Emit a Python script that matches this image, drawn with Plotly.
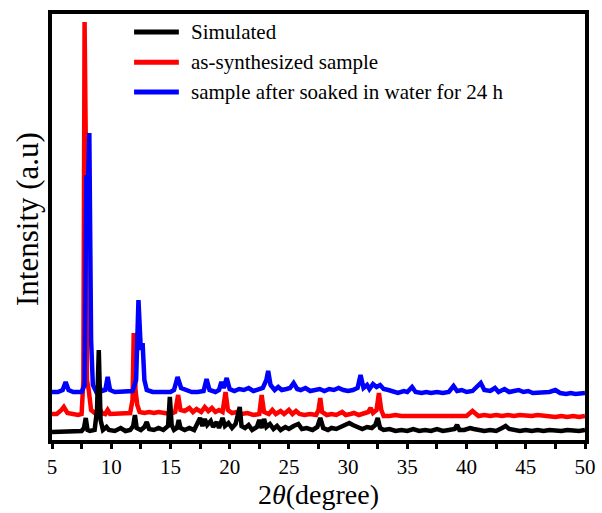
import plotly.graph_objects as go

# ---- data: (2theta, intensity) ----
sim_x = [5.0, 5.5, 6.0, 6.3, 7.0, 7.5, 7.7, 7.85, 8.0, 8.2, 8.6, 8.8, 8.95, 9.1, 9.3, 9.6, 9.8, 10.3, 10.8, 11.2,
         11.6, 11.85, 12.0, 12.15, 12.5, 12.8, 13.0, 13.2, 13.6, 14.0, 14.4, 14.8, 14.95, 15.1, 15.3, 15.55, 15.7,
         15.85, 16.2, 16.6, 17.0, 17.3, 17.5, 17.7, 17.9, 18.1, 18.4, 18.6, 18.9, 19.1, 19.4, 19.6, 19.9, 20.2,
         20.5, 20.85, 21.0, 21.3, 21.6, 21.9, 22.3, 22.5, 22.7, 22.9, 23.1, 23.4, 23.7, 24.0, 24.3, 24.7, 25.0,
         25.4, 25.8, 26.1, 26.5, 27.0, 27.4, 27.65, 27.9, 28.3, 28.6, 29.0, 29.4, 29.8, 30.1, 30.4, 30.8, 31.2,
         31.6, 32.0, 32.3, 32.5, 32.7, 33.0, 33.5, 34.0, 34.5, 35.0, 35.5, 36.0, 36.5, 37.0, 37.5, 38.0, 38.5,
         39.0, 39.2, 39.4, 39.8, 40.3, 40.6, 41.0, 41.5, 42.0, 42.5, 43.0, 43.3, 43.6, 44.0, 44.5, 45.0, 45.5,
         46.0, 46.5, 47.0, 47.5, 48.0, 48.5, 49.0, 49.5, 50.0]
sim_y = [8, 8, 9, 8, 8, 9, 12, 22, 10, 9, 10, 30, 90, 20, 10, 13, 10, 9, 12, 9,
         10, 14, 25, 12, 10, 13, 18, 11, 10, 12, 10, 14, 43, 15, 10, 12, 20,
         12, 10, 12, 10, 17, 22, 14, 21, 15, 19, 13, 18, 12, 22, 14, 17, 12,
         16, 33, 14, 12, 15, 10, 13, 20, 12, 21, 13, 16, 11, 14, 10, 13, 11,
         14, 16, 11, 12, 10, 13, 22, 12, 10, 12, 11, 13, 15, 17, 15, 13, 11,
         13, 12, 15, 22, 12, 10, 11, 9, 10, 9, 11, 9, 10, 9, 11, 9, 10,
         11, 15, 10, 10, 12, 11, 10, 9, 10, 9, 12, 14, 11, 10, 9, 10, 9,
         10, 9, 10, 9, 9, 10, 9, 9, 10]

syn_x = [5.0, 5.4, 5.8, 6.0, 6.3, 6.8, 7.2, 7.5, 7.65, 7.75, 7.85, 7.95, 8.1, 8.3, 8.6, 9.0, 9.2, 9.5, 9.7, 9.9,
         10.3, 10.8, 11.2, 11.6, 11.8, 11.9, 12.05, 12.2, 12.4, 12.8, 13.2, 13.6, 14.0, 14.5, 15.0, 15.4, 15.65,
         15.85, 16.2, 16.6, 16.9, 17.2, 17.6, 17.9, 18.2, 18.5, 18.8, 19.1, 19.4, 19.65, 19.85, 20.2, 20.6, 21.0,
         21.5, 22.0, 22.5, 22.7, 22.9, 23.3, 23.6, 23.9, 24.3, 24.6, 25.0, 25.3, 25.6, 25.9, 26.3, 26.8, 27.3,
         27.5, 27.65, 27.8, 28.2, 28.6, 29.0, 29.5, 29.8, 30.2, 30.5, 30.9, 31.3, 31.7, 31.9, 32.1, 32.4, 32.6,
         32.8, 33.0, 33.5, 34.0, 34.5, 35.0, 35.5, 36.0, 36.5, 37.0, 37.5, 38.0, 38.5, 39.0, 39.5, 40.0, 40.5,
         40.8, 41.0, 41.5, 42.0, 42.5, 43.0, 43.5, 44.0, 44.5, 45.0, 45.5, 46.0, 46.5, 47.0, 47.5, 48.0, 48.5,
         49.0, 49.5, 50.0]
syn_y = [26, 26, 30, 33, 27, 26, 25, 26, 60, 418, 300, 60, 50, 30, 27, 32, 27, 26, 30, 26,
         26, 27, 26, 27, 40, 107, 50, 35, 28, 27, 28, 27, 28, 27, 26, 28, 45,
         30, 29, 32, 28, 31, 28, 33, 29, 32, 28, 30, 28, 48, 30, 27, 28, 26,
         27, 25, 26, 45, 28, 26, 30, 26, 29, 26, 30, 26, 29, 26, 25, 26, 25,
         30, 42, 28, 25, 26, 25, 28, 25, 26, 27, 25, 26, 28, 32, 27, 30, 47,
         30, 24, 24, 25, 24, 24, 25, 24, 24, 25, 24, 24, 25, 24, 25, 24, 29,
         26, 24, 25, 24, 25, 24, 25, 24, 25, 24, 24, 25, 24, 24, 23, 24, 23,
         24, 23, 24]

soak_x = [5.0, 5.5, 5.9, 6.15, 6.4, 6.8, 7.2, 7.5, 7.75, 7.9, 8.0, 8.15, 8.3, 8.45, 8.7, 9.0, 9.2, 9.5, 9.7, 9.9,
          10.3, 10.8, 11.3, 11.8, 12.1, 12.3, 12.5, 12.65, 12.8, 13.0, 13.5, 14.0, 14.5, 15.0, 15.3, 15.6, 15.9,
          16.3, 16.8, 17.3, 17.8, 18.05, 18.3, 18.8, 19.1, 19.3, 19.5, 19.75, 20.0, 20.4, 20.8, 21.2, 21.6, 22.0,
          22.4, 22.8, 23.1, 23.25, 23.45, 23.8, 24.1, 24.4, 24.8, 25.1, 25.4, 25.7, 26.0, 26.4, 26.8, 27.2, 27.6,
          28.0, 28.4, 28.8, 29.2, 29.6, 30.0, 30.4, 30.8, 31.05, 31.3, 31.6, 31.8, 32.1, 32.4, 32.7, 33.0, 33.4,
          33.8, 34.2, 34.7, 35.0, 35.4, 35.7, 36.2, 36.6, 37.0, 37.5, 38.0, 38.5, 38.9, 39.2, 39.6, 40.0, 40.5,
          41.0, 41.2, 41.5, 42.0, 42.4, 42.7, 43.2, 43.6, 44.0, 44.4, 44.8, 45.2, 45.6, 46.0, 46.5, 47.0, 47.5,
          47.9, 48.4, 48.8, 49.2, 49.6, 50.0]
soak_y = [48, 48, 50, 58, 50, 48, 48, 48, 55, 265, 240, 307, 100, 55, 49, 53, 49, 50, 63, 50,
          48, 48, 48, 49, 60, 140, 90, 97, 60, 50, 48, 48, 47, 48, 50, 63, 52,
          50, 48, 48, 49, 61, 50, 48, 50, 58, 52, 62, 51, 49, 51, 50, 52, 49,
          50, 52, 60, 69, 55, 50, 53, 50, 51, 52, 57, 51, 50, 52, 49, 50, 51,
          49, 51, 50, 52, 50, 49, 50, 52, 65, 52, 55, 51, 56, 53, 55, 51, 50,
          48, 47, 49, 48, 53, 48, 47, 48, 47, 48, 47, 48, 54, 49, 50, 48, 49,
          54, 57, 50, 49, 52, 48, 51, 48, 49, 50, 48, 49, 47, 47, 47, 48, 50,
          47, 46, 47, 46, 46, 47]

series_names = ["Simulated", "as-synthesized sample", "sample after soaked in water for 24 h"]
series_colors = ["#000000", "#ff0000", "#0000ff"]
x_ticks = [5, 10, 15, 20, 25, 30, 35, 40, 45, 50]

FONT = "Liberation Serif, Times New Roman, serif"

fig = go.Figure()
# draw order: red, blue, black on top
fig.add_trace(go.Scatter(x=syn_x, y=syn_y, mode="lines", name=series_names[1],
                         line=dict(color=series_colors[1], width=4.5), showlegend=False))
fig.add_trace(go.Scatter(x=soak_x, y=soak_y, mode="lines", name=series_names[2],
                         line=dict(color=series_colors[2], width=4.5), showlegend=False))
fig.add_trace(go.Scatter(x=sim_x, y=sim_y, mode="lines", name=series_names[0],
                         line=dict(color=series_colors[0], width=4.5), showlegend=False))

# manual legend (lines + text)
leg_y = [0.958, 0.887, 0.817]
for name, col, yy in zip(series_names, series_colors, leg_y):
    fig.add_shape(type="line", xref="paper", yref="paper", x0=0.154, x1=0.238, y0=yy, y1=yy,
                  line=dict(color=col, width=5))
    fig.add_annotation(xref="paper", yref="paper", x=0.257, y=yy, text=name, showarrow=False,
                       xanchor="left", yanchor="middle", font=dict(family=FONT, size=21, color="black"))

# axis titles as annotations (exact placement)
fig.add_annotation(xref="paper", yref="paper", x=0.5, y=-0.169, text="2<i>θ</i>(degree)",
                   showarrow=False, xanchor="center", yanchor="bottom",
                   font=dict(family=FONT, size=28, color="black"))
fig.add_annotation(xref="paper", yref="paper", x=-0.046, y=0.52, text="Intensity (a.u)",
                   showarrow=False, xanchor="center", yanchor="middle", textangle=-90,
                   font=dict(family=FONT, size=31, color="black"))

fig.update_layout(
    width=602, height=513,
    margin=dict(l=52, r=17, t=14, b=73),
    paper_bgcolor="white", plot_bgcolor="white",
    font=dict(family=FONT, color="black"),
    showlegend=False,
)
fig.update_xaxes(
    range=[5, 50], tickvals=x_ticks, ticktext=[str(v) for v in x_ticks],
    showline=True, linecolor="black", linewidth=4, mirror=True,
    ticks="outside", ticklen=5, tickwidth=3, tickcolor="black",
    minor=dict(dtick=2.5, tick0=5, ticks="outside", ticklen=5, tickwidth=3, tickcolor="black"),
    showgrid=False, zeroline=False, automargin=False,
    tickfont=dict(family=FONT, size=21, color="black"),
)
fig.update_yaxes(
    range=[0, 426], showticklabels=False, ticks="",
    showline=True, linecolor="black", linewidth=4, mirror=True,
    showgrid=False, zeroline=False, automargin=False,
)

fig.write_html("out.html", config={"displayModeBar": False},
               post_script="document.body.style.margin='0';")
